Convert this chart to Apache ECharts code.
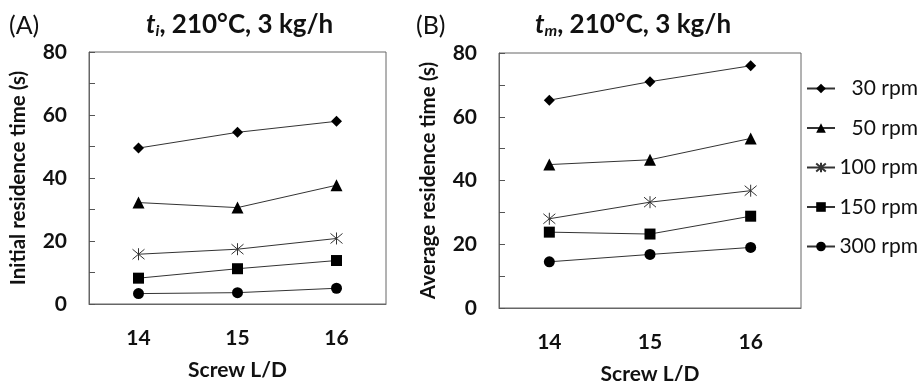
<!DOCTYPE html>
<html>
<head>
<meta charset="utf-8">
<script src="https://cdn.jsdelivr.net/npm/echarts@6/dist/echarts.min.js"></script>
<style>
  html,body{margin:0;padding:0;background:#fff;}
  #main{width:920px;height:381px;}
</style>
</head>
<body>
<div id="main"></div>
<script>
// screw L/D
const categories = ['14', '15', '16'];
const speeds = ['30 rpm', '50 rpm', '100 rpm', '150 rpm', '300 rpm'];
const yTicks = [0, 20, 40, 60, 80];

// (A) initial residence time t_i (s)
const tiRpm30 = [49.5, 54.5, 58];
const tiRpm50 = [32.2, 30.6, 37.7];
const tiRpm100 = [15.8, 17.4, 20.8];
const tiRpm150 = [8.2, 11.2, 13.8];
const tiRpm300 = [3.3, 3.6, 5];

// (B) average residence time t_m (s)
const tmRpm30 = [65.2, 71, 76];
const tmRpm50 = [45, 46.5, 53.2];
const tmRpm100 = [28, 33.2, 36.8];
const tmRpm150 = [23.8, 23.2, 28.8];
const tmRpm300 = [14.5, 16.8, 19];

const FONT = 'Lato';
const asterisk = 'path://M0,0L10,10M10,0L0,10M5,-1L5,11';
const symbols = ['diamond', 'triangle', asterisk, 'rect', 'circle'];
const symSizes = [11, 12, 12, 11, 11];

function makeSeries(dataList, idx) {
  return dataList.map((d, i) => ({
    name: speeds[i],
    type: 'line',
    xAxisIndex: idx,
    yAxisIndex: idx,
    data: d,
    symbol: symbols[i],
    symbolSize: symSizes[i],
    showAllSymbol: true,
    lineStyle: {color: '#333', width: 1},
    itemStyle: i === 2
      ? {color: 'rgba(0,0,0,0)', borderColor: '#333', borderWidth: 1}
      : {color: '#000', borderWidth: 0},
    emphasis: {disabled: true},
    z: 3
  }));
}

function xAxisFor(idx) {
  return {
    type: 'category',
    gridIndex: idx,
    data: categories,
    name: 'Screw L/D',
    nameLocation: 'middle',
    nameGap: 56,
    nameTextStyle: {fontFamily: FONT, fontWeight: 'bold', fontSize: 21, color: '#111'},
    axisLine: {lineStyle: {color: '#666', width: 1}},
    axisTick: {inside: true, alignWithLabel: true, length: 6, lineStyle: {color: '#555'}},
    axisLabel: {margin: 24, fontFamily: FONT, fontWeight: 'bold', fontSize: 21, color: '#111'},
    splitLine: {show: false}
  };
}

function yAxisFor(idx, title, gap) {
  return {
    type: 'value',
    gridIndex: idx,
    min: 0, max: 80, interval: 10,
    name: title,
    nameLocation: 'middle',
    nameGap: gap,
    nameTextStyle: {fontFamily: FONT, fontWeight: 'bold', fontSize: 20.5, color: '#111'},
    axisLine: {show: true, lineStyle: {color: '#666', width: 1}},
    axisTick: {show: true, inside: true, length: 6, lineStyle: {color: '#555'}},
    axisLabel: {
      margin: 22, fontFamily: FONT, fontWeight: 'bold', fontSize: 21, color: '#111',
      formatter: v => (yTicks.indexOf(v) >= 0 ? String(v) : '')
    },
    splitLine: {show: false}
  };
}

function titleText(sub) {
  return '{t|t}{s|' + sub + '}{n|, 210°C, 3 kg/h}';
}
const titleRich = {
  t: {fontFamily: FONT, fontWeight: 'bold', fontStyle: 'italic', fontSize: 26, color: '#111'},
  s: {fontFamily: FONT, fontWeight: 'bold', fontStyle: 'italic', fontSize: 16, color: '#111', padding: [12, 0, 0, 0]},
  n: {fontFamily: FONT, fontWeight: 'bold', fontSize: 26, color: '#111'}
};

const chart = echarts.init(document.getElementById('main'), null, {renderer: 'canvas'});
chart.setOption({
  animation: false,
  backgroundColor: '#fff',
  title: [
    {text: '(A)', left: 4, top: 8, textStyle: {fontFamily: FONT, fontWeight: 'normal', fontSize: 25, color: '#111'}},
    {text: '(B)', left: 411, top: 8, textStyle: {fontFamily: FONT, fontWeight: 'normal', fontSize: 25, color: '#111'}},
    {text: titleText('i'), left: 141, top: 6, textStyle: {rich: titleRich}},
    {text: titleText('m'), left: 530, top: 6, textStyle: {rich: titleRich}}
  ],
  legend: {
    orient: 'vertical',
    right: 2,
    top: 78,
    padding: 0,
    itemGap: 18.5,
    itemWidth: 28,
    itemHeight: 12,
    data: speeds,
    formatter: name => '{r|' + name + '}',
    textStyle: {
      rich: {r: {fontFamily: FONT, fontSize: 21, color: '#111', width: 78, align: 'right'}}
    }
  },
  grid: [
    {left: 89, top: 52, width: 297, height: 252, outerBoundsMode: 'none', show: true, borderColor: '#666', borderWidth: 1, backgroundColor: 'transparent'},
    {left: 499, top: 53, width: 302, height: 255, outerBoundsMode: 'none', show: true, borderColor: '#666', borderWidth: 1, backgroundColor: 'transparent'}
  ],
  xAxis: [xAxisFor(0), xAxisFor(1)],
  yAxis: [
    yAxisFor(0, 'Initial residence time (s)', 60),
    yAxisFor(1, 'Average residence time (s)', 60)
  ],
  series: [
    ...makeSeries([tiRpm30, tiRpm50, tiRpm100, tiRpm150, tiRpm300], 0),
    ...makeSeries([tmRpm30, tmRpm50, tmRpm100, tmRpm150, tmRpm300], 1)
  ]
});
</script>
</body>
</html>
